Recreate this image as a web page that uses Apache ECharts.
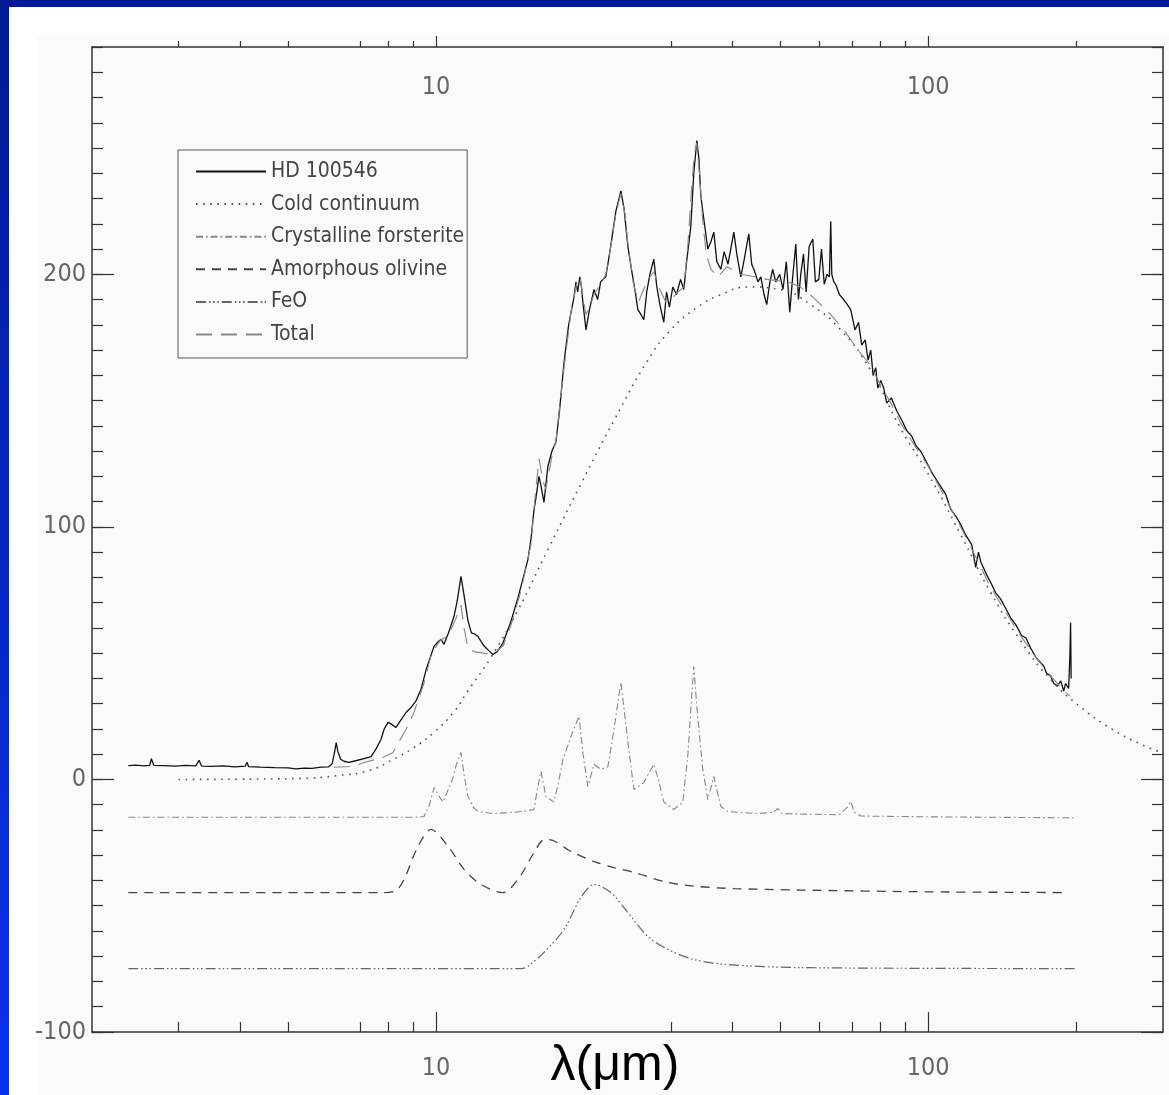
<!DOCTYPE html>
<html lang="en">
<head>
<meta charset="UTF-8">
<title>HD 100546 - ISO spectrum fit</title>
<script src="https://cdn.jsdelivr.net/npm/echarts@6/dist/echarts.min.js"></script>
<style>
  html, body { margin: 0; padding: 0; background: #ffffff; }
  #chart { width: 1169px; height: 1095px; }
</style>
</head>
<body>
<div id="chart"></div>
<script>
// wavelength (micron) / flux pairs
var hd100546 = [
  [2.37,5.5],[2.45,5.7],[2.55,5.4],[2.62,5.6],[2.64,8.2],[2.67,5.6],[2.8,5.5],[2.95,5.3],[3.1,5.6],[3.25,5.4],
  [3.3,7.6],[3.34,5.3],[3.5,5.2],[3.7,5.4],[3.9,5.0],[4.1,5.3],[4.13,6.8],[4.16,5.1],[4.4,4.9],[4.7,4.7],
  [5.0,4.6],[5.2,4.2],[5.4,4.5],[5.6,4.4],[5.84,4.9],[6.05,5.0],[6.15,6.2],[6.21,10],[6.27,14.6],[6.32,11],
  [6.4,8],[6.5,7.2],[6.65,6.8],[6.9,7.5],[7.14,8.2],[7.38,9.0],[7.55,12],[7.73,15.8],[7.85,20],[7.99,22.6],
  [8.1,22],[8.29,20.6],[8.45,23],[8.69,26.5],[8.9,28.5],[9.1,31],[9.32,35.6],[9.55,43.5],[9.8,50],[9.91,52.7],
  [10.1,54.5],[10.24,55.4],[10.38,53.5],[10.6,58],[10.88,64.6],[11.05,71],[11.24,80.4],[11.4,73],[11.61,63],[11.8,58],
  [12.0,57.5],[12.17,56.6],[12.5,53],[12.8,51],[13.05,49.5],[13.3,50.5],[13.68,54],[14.2,62.6],[14.7,72.5],[15.37,87],
  [15.59,95],[15.8,106],[16.0,113],[16.19,120],[16.35,116],[16.57,109.7],[16.88,124],[17.2,130],[17.52,133.5],[17.8,145],
  [18.2,165],[18.6,180],[19.07,191],[19.25,197],[19.4,193],[19.6,199],[19.75,195],[19.9,188],[20.17,178],[20.5,186],
  [20.94,194],[21.3,190],[21.6,197],[22.13,199],[22.6,210],[23.2,225],[23.75,233],[24.1,226],[24.54,211],[25.0,201],
  [25.4,193],[25.71,186],[26.1,184],[26.44,182],[26.8,193],[27.2,200],[27.7,206],[28.1,195],[28.5,188],[29.03,181],
  [29.4,193],[29.8,187],[30.28,195],[30.8,192],[31.4,198],[31.88,194],[32.3,205],[32.94,219],[33.4,240],[33.88,253],
  [34.2,246],[34.52,231],[35.0,222],[35.67,210],[36.2,213],[36.68,216.7],[37.2,205],[37.91,202],[38.5,209],[39.2,204],
  [40.28,216.7],[40.85,208],[41.62,199],[42.3,206],[43.2,216],[43.8,204],[44.43,201],[45.1,197],[45.7,199],[46.4,192],
  [46.99,188],[47.6,196],[48.3,202],[49.02,197],[49.94,200],[50.7,194],[51.5,205],[52.33,185],[53.0,198],[53.83,212],
  [54.5,190],[55.1,200],[55.8,208],[56.5,193],[57.3,211],[58.29,214],[59.0,197],[59.95,198],[60.7,210],[61.5,196],
  [62.3,200],[63.0,199],[63.39,221],[63.7,200],[64.3,197],[64.89,196],[66.0,192],[67.36,190],[68.5,188],[69.6,186],
  [71.0,178],[72.2,181],[73.28,172],[74.5,174],[75.5,166],[76.43,170],[77.3,160],[78.25,163],[79.0,155],[80.1,158],
  [81.2,155],[82.37,149],[84.2,151],[86.3,146],[88.5,142],[90.5,138],[92.58,136],[94.5,132],[96.56,130],[99,126],
  [102.1,121],[106,116],[108.5,113],[111.1,107],[114,104],[116.4,101],[119,97],[122.6,93],[124.9,84],[126.5,90],
  [128,86],[131.5,81],[134,78],[137,74],[140.3,71.5],[143.5,68],[147.1,64],[151,61],[154.8,57],[158,56],
  [161.5,52],[166,48],[171.6,45],[174,42],[177.3,41],[180,38],[183.2,37],[186,39],[188.5,35],[190.2,38],
  [192.9,36],[194,48],[194.7,62],[195.2,40]
];

var coldContinuum = [
  [3.0,0],[4.0,0.1],[5.3,0.4],[6.3,1.5],[7.3,3.5],[8.2,8],[9.0,12.5],[9.9,18.6],[10.9,27],[11.6,35],
  [12.9,48],[14.67,67],[16.88,91],[19.7,117],[22.98,142],[26.94,166],[30,178],[34,187],[38,192],[43,195],
  [50,194],[57.7,188],[66.4,178],[76.4,162],[87.9,139],[100,121],[116.4,97],[134,74],[154,55],[177.3,39.6],
  [206,28],[236,20],[270,14],[300,10.5]
];

var forsterite = [
  [2.37,-15],[9.0,-15],[9.45,-14.7],[9.7,-10],[9.91,-3.2],[10.1,-6],[10.33,-9],[10.8,0],[11.0,6],[11.24,10.7],
  [11.4,2],[11.61,-6.7],[11.9,-11],[12.17,-12.7],[13.0,-13.5],[14.4,-13],[15.2,-12.5],[15.81,-11.9],[16.1,-3],[16.34,3.2],
  [16.72,-6.7],[17.36,-9],[17.7,-2],[18.11,7.9],[18.8,17],[19.52,25],[19.9,10],[20.35,-2.8],[20.94,6],[21.6,4],
  [22.34,5],[23.0,20],[23.75,38.4],[24.1,28],[24.54,14.7],[25.24,-4],[26.44,-1.2],[27.7,6],[28.3,0],[29.03,-9],
  [30.42,-11.9],[31.73,-9],[32.5,10],[33.0,30],[33.41,44.8],[33.9,28],[34.84,4],[35.67,-8],[36.68,1.2],[37.91,-10.7],
  [39.17,-12.7],[45,-13.5],[48.5,-13],[49.5,-11.5],[50.5,-13.5],[66,-14],[68.5,-11],[69.6,-8.7],[70.8,-13],[73,-14.5],
  [100,-14.8],[200,-15.2]
];

var olivine = [
  [2.37,-44.8],[7.7,-44.8],[8.29,-44],[8.61,-39.6],[9.19,-26.5],[9.77,-19.8],[10.58,-26.5],[11.4,-35.6],[12.34,-41.6],[13.68,-44.8],
  [14.67,-39.6],[15.81,-29],[16.5,-24],[16.96,-23.8],[18.8,-28.5],[20.94,-32.5],[22.98,-34.9],[25.24,-36.8],[29.58,-40.8],[34.04,-42.4],
  [40.28,-43.2],[55,-43.8],[100,-44.5],[193,-44.8]
];

var feo = [
  [2.37,-74.9],[14.9,-74.9],[15.37,-74],[16.57,-68.5],[18.2,-59.4],[19.7,-46.7],[20.94,-41.6],[22.66,-44.8],[24.54,-52.7],[26.94,-62.2],
  [29.58,-67.3],[33.41,-71.3],[39.17,-73.3],[55,-74.5],[200,-74.9]
];

var total = [
  [6.2,4.8],[6.8,5.2],[7.14,6.7],[7.8,8.7],[8.18,10.7],[8.69,19.8],[9.0,26],[9.45,38],[9.8,50],[10.2,55],
  [10.6,57],[10.88,62],[11.1,66],[11.24,69],[11.4,60],[11.61,52],[12.0,50.5],[12.5,50],[13.05,49.5],[13.7,53],
  [14.2,61],[14.9,75],[15.59,93],[15.9,112],[16.19,127],[16.5,118],[16.72,115],[17.2,128],[17.52,134],[18.2,163],
  [18.8,185],[19.3,196],[19.6,199],[20.17,184],[20.6,188],[20.94,192],[21.6,196],[22.13,200],[22.7,212],[23.2,224],
  [23.75,232],[24.2,224],[24.54,212],[25.2,196],[25.8,189],[26.4,194],[27.0,198],[27.7,201],[28.5,194],[29.3,189],
  [30.0,190],[31.0,193],[31.9,195],[32.5,212],[33.0,232],[33.5,248],[33.88,252],[34.3,240],[34.8,222],[35.4,208],
  [36.2,202],[37.4,199],[39.0,203],[41.6,200],[44.4,199],[47,198],[52,197],[55,195],[58.3,191],[60.5,188],
  [63.4,184],[67.4,178],[72,170],[76.4,164],[80.1,156],[84,149],[88,141],[94,132],[100,124],[108,112],
  [116.4,100],[125,88],[134,76],[144,66],[154,57],[166,48],[177.3,41],[186,36.5],[194,33]
];

var seriesNames = ['HD 100546', 'Cold continuum', 'Crystalline forsterite', 'Amorphous olivine', 'FeO', 'Total'];
var xMajorTicks = [10, 100];
var xMinorTicks = [3, 4, 5, 7, 8, 9, 30, 40, 50, 60, 70, 80, 90, 200];
var yMajorTicks = [-100, 0, 100, 200];

var labelFont = "'Liberation Sans Narrow', 'DejaVu Sans Condensed', 'Liberation Sans', sans-serif";
var axisColor = '#333';

function xAxisDef(pos, ticks, len, inside, withLabels, withLine) {
    return {
        type: 'log', logBase: 10, min: 2, max: 300, position: pos,
        axisLine: { show: withLine, onZero: false, lineStyle: { color: axisColor, width: 1.5 } },
        axisTick: { show: true, inside: inside, length: len, customValues: ticks, lineStyle: { color: axisColor, width: 1.2 } },
        axisLabel: withLabels ? {
            show: true, customValues: ticks, inside: pos === 'top', margin: pos === 'top' ? 28 : 24,
            color: '#666', fontSize: 25, fontFamily: labelFont
        } : { show: false },
        splitLine: { show: false }
    };
}

function yAxisDef(pos, interval, len, withLabels, withLine) {
    var ax = {
        type: 'value', min: -100, max: 290, interval: interval, position: pos,
        axisLine: { show: withLine, onZero: false, lineStyle: { color: axisColor, width: 1.5 } },
        axisTick: { show: true, inside: true, length: len, lineStyle: { color: axisColor, width: 1.2 } },
        axisLabel: { show: false },
        splitLine: { show: false }
    };
    if (interval === 100) {
        ax.axisTick.customValues = yMajorTicks;
    }
    if (withLabels) {
        ax.axisLabel = { show: true, customValues: yMajorTicks, margin: 6,
            color: '#666', fontSize: 25, fontFamily: labelFont };
    }
    return ax;
}

function lineSeries(name, data, color, width, dash, smooth) {
    return {
        name: name, type: 'line', data: data, xAxisIndex: 0, yAxisIndex: 0,
        symbol: 'none', smooth: smooth, silent: true,
        lineStyle: { color: color, width: width, type: dash, cap: 'butt' },
        itemStyle: { color: color }
    };
}

var chart = echarts.init(document.getElementById('chart'), null, { renderer: 'canvas' });

var option = {
    animation: false,
    backgroundColor: '#ffffff',
    grid: { left: 92, right: 6, top: 47, bottom: 63, containLabel: false },
    graphic: [
        { type: 'rect', silent: true, z: -10, shape: { x: 38, y: 35, width: 1131, height: 1060 }, style: { fill: '#f8fbf9' } },
        { type: 'rect', silent: true, z: -5, shape: { x: 0, y: 0, width: 1169, height: 7 }, style: { fill: '#021a94' } },
        { type: 'rect', silent: true, z: -5, shape: { x: 0, y: 0, width: 9, height: 1095 },
          style: { fill: { type: 'linear', x: 0, y: 0, x2: 0, y2: 1,
              colorStops: [{ offset: 0, color: '#021a94' }, { offset: 1, color: '#0a32ee' }] } } },
        { type: 'text', silent: true, x: 615, y: 1066,
          style: { text: 'λ(μm)', align: 'center', verticalAlign: 'middle',
                   font: "50px 'Liberation Sans', Arial, sans-serif", fill: '#000' } }
    ],
    legend: {
        show: true, orient: 'vertical', left: 178, top: 150,
        padding: [11, 3, 13, 17], itemGap: 11.6, itemWidth: 70, itemHeight: 14,
        borderColor: '#555', borderWidth: 1,
        itemStyle: { opacity: 0 },
        textStyle: { color: '#444', fontSize: 21, fontFamily: labelFont },
        data: seriesNames
    },
    xAxis: [
        xAxisDef('bottom', xMajorTicks, 20, true, true, true),
        xAxisDef('bottom', xMinorTicks, 10, true, false, false),
        xAxisDef('top', xMajorTicks, 11, false, true, true),
        xAxisDef('top', xMinorTicks, 6, false, false, false)
    ],
    yAxis: [
        yAxisDef('left', 10, 11, false, true),
        yAxisDef('left', 100, 22, true, false),
        yAxisDef('right', 10, 11, false, true),
        yAxisDef('right', 100, 22, false, false)
    ],
    series: [
        lineSeries(seriesNames[0], hd100546, '#111111', 1.3, 'solid', false),
        lineSeries(seriesNames[1], coldContinuum, '#555555', 1.6, [1.6, 5.5], true),
        lineSeries(seriesNames[2], forsterite, '#888888', 1.1, [7, 3, 1.6, 3], false),
        lineSeries(seriesNames[3], olivine, '#444444', 1.3, [9, 7], 0.3),
        lineSeries(seriesNames[4], feo, '#666666', 1.2, [10, 3, 1.6, 2.5, 1.6, 2.5, 1.6, 3], 0.3),
        lineSeries(seriesNames[5], total, '#888888', 1.1, [16, 9], false)
    ]
};

chart.setOption(option);
</script>
</body>
</html>
